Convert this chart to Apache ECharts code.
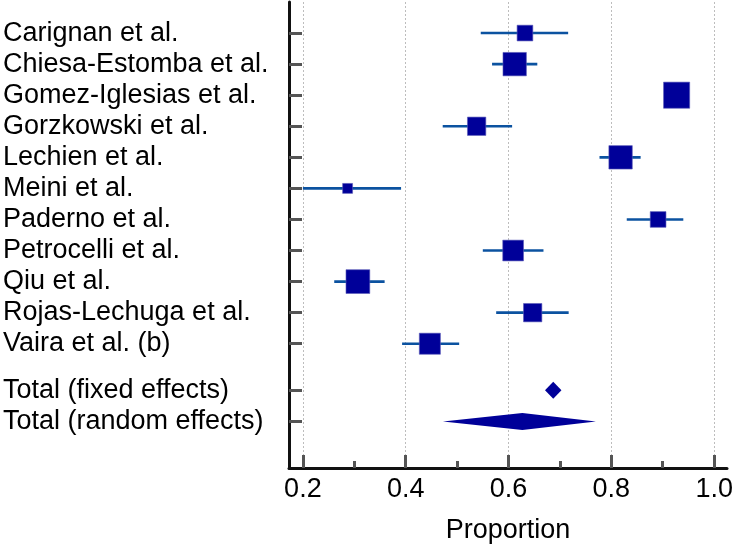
<!DOCTYPE html>
<html>
<head>
<meta charset="utf-8">
<script src="https://cdn.jsdelivr.net/npm/echarts@6/dist/echarts.min.js"></script>
<style>
html,body{margin:0;padding:0;background:#fff;}
#chart{width:733px;height:547px;}
</style>
</head>
<body>
<div id="chart"></div>
<script>
// ---- data ----
const studies = ['Carignan et al.', 'Chiesa-Estomba et al.', 'Gomez-Iglesias et al.', 'Gorzkowski et al.', 'Lechien et al.', 'Meini et al.', 'Paderno et al.', 'Petrocelli et al.', 'Qiu et al.', 'Rojas-Lechuga et al.', 'Vaira et al. (b)'];
const proportion = [0.632, 0.612, 0.927, 0.538, 0.818, 0.287, 0.891, 0.609, 0.307, 0.647, 0.447];
const ciLow = [0.546, 0.568, 0.905, 0.472, 0.777, 0.200, 0.830, 0.550, 0.261, 0.576, 0.393];
const ciHigh = [0.716, 0.656, 0.947, 0.607, 0.857, 0.391, 0.940, 0.668, 0.359, 0.717, 0.504];
const weight = [5.5, 12.2, 15.2, 7.5, 12.2, 2.2, 5.5, 9.6, 12.6, 7.5, 9.9];

const totalLabels = ['Total (fixed effects)', 'Total (random effects)'];
const totalEst = [0.687, 0.627];
const totalLow = [0.671, 0.4725];
const totalHigh = [0.703, 0.770];

const xMajorTicks = [0.2, 0.4, 0.6, 0.8, 1.0];
const xMinorTicks = [0.3, 0.5, 0.7, 0.9];
const xAxisTitle = 'Proportion';

// ---- layout helpers ----
const n = studies.length;
const studyRows = studies.map((s, i) => i);
const totalRows = [n + 0.5, n + 1.5];
const allRows = studyRows.concat(totalRows);
const rowLabel = {};
studies.forEach((s, i) => { rowLabel[studyRows[i]] = s; });
totalLabels.forEach((s, i) => { rowLabel[totalRows[i]] = s; });

const FONT = 'Liberation Sans, Arial, sans-serif';
const FS = 27;
const BOX_K = 6.7;
const DIAMOND_H = 8.5;
const xMin = 0.173, xMax = 1.025;
const yMin = -1, yMax = 14;
const gridPos = { left: 289, right: 6, top: 2, bottom: 79, containLabel: false, outerBoundsMode: 'none' };

const studyData = studies.map((s, i) => [ciLow[i], ciHigh[i], proportion[i], studyRows[i], weight[i]]);
const totalData = totalLabels.map((s, i) => [totalLow[i], totalHigh[i], totalEst[i], totalRows[i]]);

const chart = echarts.init(document.getElementById('chart'), null, { renderer: 'canvas' });

chart.setOption({
  backgroundColor: '#ffffff',
  animation: false,
  grid: [
    Object.assign({}, gridPos),
    Object.assign({}, gridPos)
  ],
  xAxis: [
    {
      type: 'value', gridIndex: 0, min: xMin, max: xMax,
      axisLine: { show: true, onZero: false, lineStyle: { color: '#111', width: 3 } },
      axisTick: { show: true, inside: true, length: 13, customValues: xMajorTicks, lineStyle: { color: '#555', width: 3 } },
      axisLabel: { show: true, customValues: xMajorTicks, margin: 8, color: '#000', fontFamily: FONT, fontSize: FS,
        formatter: v => Number(v).toFixed(1) },
      splitLine: { show: true, lineStyle: { color: '#bdbdbd', width: 1, type: [2, 2] } },
      name: xAxisTitle, nameLocation: 'middle', nameGap: 49,
      nameTextStyle: { color: '#000', fontFamily: FONT, fontSize: FS }
    },
    {
      type: 'value', gridIndex: 1, min: xMin, max: xMax, position: 'bottom',
      axisLine: { show: false, onZero: false },
      axisTick: { show: true, inside: true, length: 7, customValues: xMinorTicks, lineStyle: { color: '#555', width: 3 } },
      axisLabel: { show: false },
      splitLine: { show: false }
    }
  ],
  yAxis: [
    {
      type: 'value', gridIndex: 0, min: yMin, max: yMax, inverse: true,
      axisLine: { show: true, onZero: false, lineStyle: { color: '#111', width: 3 } },
      axisTick: { show: true, inside: true, length: 13, customValues: allRows, lineStyle: { color: '#555', width: 3 } },
      axisLabel: { show: true, customValues: allRows, align: 'left', margin: 286, color: '#000',
        fontFamily: FONT, fontSize: FS, formatter: v => rowLabel[v] || '' },
      splitLine: { show: false }
    },
    {
      type: 'value', gridIndex: 1, min: yMin, max: yMax, inverse: true, show: false
    }
  ],
  series: [
    {
      type: 'custom', xAxisIndex: 0, yAxisIndex: 0, z: 5,
      data: studyData,
      renderItem: function (params, api) {
        const lo = api.coord([api.value(0), api.value(3)]);
        const hi = api.coord([api.value(1), api.value(3)]);
        const c = api.coord([api.value(2), api.value(3)]);
        const s = BOX_K * Math.sqrt(api.value(4));
        return {
          type: 'group',
          children: [
            { type: 'line', shape: { x1: lo[0], y1: lo[1], x2: hi[0], y2: hi[1] },
              style: { stroke: '#0b52a0', lineWidth: 2.6 } },
            { type: 'rect', shape: { x: c[0] - s / 2, y: c[1] - s / 2, width: s, height: s },
              style: { fill: '#000099', stroke: '#5a5ab8', lineWidth: 0.6 } }
          ]
        };
      }
    },
    {
      type: 'custom', xAxisIndex: 0, yAxisIndex: 0, z: 5,
      data: totalData,
      renderItem: function (params, api) {
        const lo = api.coord([api.value(0), api.value(3)]);
        const hi = api.coord([api.value(1), api.value(3)]);
        const c = api.coord([api.value(2), api.value(3)]);
        return {
          type: 'polygon',
          shape: { points: [[lo[0], lo[1]], [c[0], c[1] - DIAMOND_H], [hi[0], hi[1]], [c[0], c[1] + DIAMOND_H]] },
          style: { fill: '#000099' }
        };
      }
    }
  ]
});
</script>
</body>
</html>
